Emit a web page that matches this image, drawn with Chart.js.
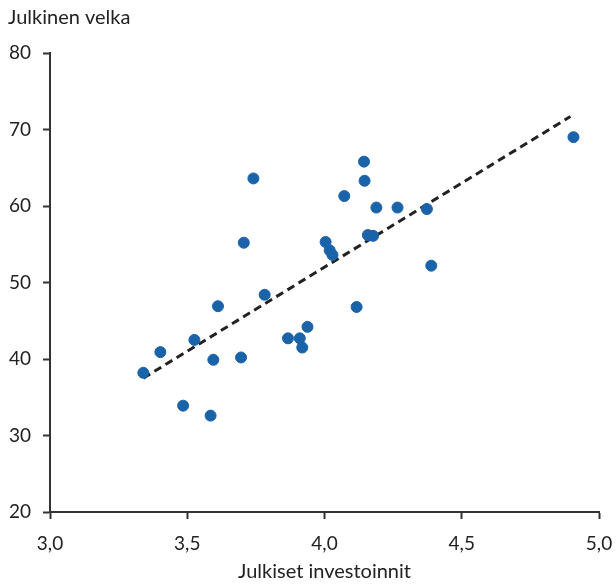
<!DOCTYPE html>
<html>
<head>
<meta charset="utf-8">
<script src="https://cdn.jsdelivr.net/npm/chart.js@4/dist/chart.umd.min.js"></script>
<style>
  html, body { margin: 0; padding: 0; background: #fff; }
  #wrap { width: 616px; height: 584px; }
</style>
</head>
<body>
<div id="wrap"><canvas id="scatterCanvas" width="616" height="584"></canvas></div>
<script>
// investment (x) vs public debt (y)
var investments = [3.340, 3.402, 3.485, 3.526, 3.585, 3.595, 3.612, 3.696, 3.706, 3.741,
  3.782, 3.867, 3.910, 3.919, 3.938, 4.004, 4.019, 4.029, 4.072, 4.117,
  4.144, 4.146, 4.158, 4.177, 4.189, 4.266, 4.373, 4.389, 4.907];
var debt = [38.2, 40.9, 33.9, 42.5, 32.6, 39.9, 46.9, 40.2, 55.2, 63.6,
  48.4, 42.7, 42.7, 41.5, 44.2, 55.3, 54.2, 53.6, 61.3, 46.8,
  65.8, 63.3, 56.2, 56.1, 59.8, 59.8, 59.6, 52.2, 69.0];

// trend line end points
var trendX = [3.34, 4.896];
var trendY = [37.5, 71.7];

var xTicks = [3.0, 3.5, 4.0, 4.5, 5.0];
var yTicks = [20, 30, 40, 50, 60, 70, 80];

var fontFamily = 'Lato, "Open Sans", sans-serif';
var axisColor = '#333333';

var yTitle = {
  id: 'yTitle',
  afterDraw(chart) {
    var ctx = chart.ctx;
    ctx.save();
    ctx.font = '20px ' + fontFamily;
    ctx.fillStyle = '#222';
    ctx.textBaseline = 'middle';
    ctx.textAlign = 'left';
    ctx.fillText('Julkinen velka', 8, 18);
    ctx.restore();
  }
};

new Chart(
  document.getElementById('scatterCanvas'),
  {
    type: 'scatter',
    plugins: [yTitle],
    data: {
      datasets: [
        {
          label: 'Trendi',
          type: 'line',
          data: trendX.map((x, i) => ({ x: x, y: trendY[i] })),
          borderColor: '#222222',
          borderWidth: 3,
          borderDash: [8, 5],
          pointRadius: 0,
          fill: false,
          order: 2
        },
        {
          label: 'Maat',
          data: investments.map((x, i) => ({ x: x, y: debt[i] })),
          backgroundColor: '#1a63a9',
          borderColor: '#1a63a9',
          pointRadius: 5.5,
          pointHoverRadius: 5.5,
          order: 1
        }
      ]
    },
    options: {
      responsive: false,
      animation: false,
      layout: {
        padding: { top: 53, right: 0, left: 0, bottom: 0 }
      },
      plugins: {
        legend: { display: false },
        tooltip: { enabled: false }
      },
      scales: {
        x: {
          type: 'linear',
          min: 3,
          max: 5,
          afterBuildTicks: axis => { axis.ticks = xTicks.map(v => ({ value: v })); },
          afterFit: axis => {
            axis.height = 72;
            axis.paddingRight = 17;
          },
          border: { color: axisColor, width: 2 },
          grid: { display: true, drawOnChartArea: false, drawTicks: true, tickLength: 7, tickColor: axisColor, tickWidth: 2 },
          ticks: {
            color: '#222',
            font: { family: fontFamily, size: 19 },
            padding: 13,
            callback: value => value.toFixed(1).replace('.', ',')
          },
          title: {
            display: true,
            text: 'Julkiset investoinnit',
            color: '#222',
            font: { family: fontFamily, size: 20 },
            padding: { top: 10, bottom: 0 }
          }
        },
        y: {
          type: 'linear',
          min: 20,
          max: 80,
          afterBuildTicks: axis => { axis.ticks = yTicks.map(v => ({ value: v })); },
          afterFit: axis => { axis.width = 50; },
          border: { color: axisColor, width: 2 },
          grid: { display: true, drawOnChartArea: false, drawTicks: true, tickLength: 7, tickColor: axisColor, tickWidth: 2 },
          ticks: {
            color: '#222',
            font: { family: fontFamily, size: 19 },
            padding: 12
          }
        }
      }
    }
  }
);
</script>
</body>
</html>
